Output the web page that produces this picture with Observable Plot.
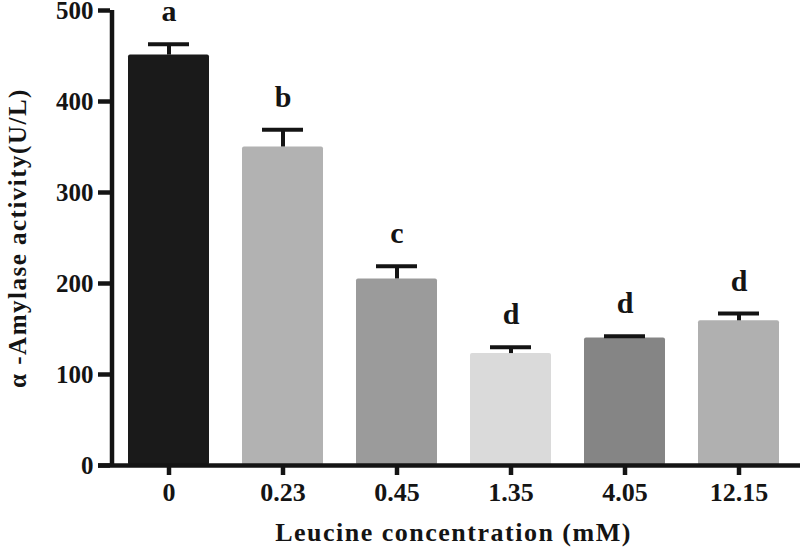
<!DOCTYPE html>
<html>
<head>
<meta charset="utf-8">
<script src="https://cdn.jsdelivr.net/npm/d3@7"></script>
<script src="https://cdn.jsdelivr.net/npm/@observablehq/plot@0.6"></script>
<style>
  html, body { margin: 0; padding: 0; background: #fff; }
</style>
</head>
<body>
<div id="chart"></div>
<script>
const concentrations = ["0", "0.23", "0.45", "1.35", "4.05", "12.15"];
const activity = [451, 350, 205, 123, 140, 159];
const sem = [12, 19, 14, 7, 2, 8];
const letters = ["a", "b", "c", "d", "d", "d"];
const yTicks = [0, 100, 200, 300, 400, 500];
const barFills = ["#1a1a1a", "#b2b2b2", "#9b9b9b", "#dadada", "#858585", "#b0b0b0"];
const xTitle = "Leucine concentration (mM)";
const yTitle = "α -Amylase activity(U/L)";

const data = concentrations.map((c, i) => ({
  conc: c,
  mean: activity[i],
  top: activity[i] + sem[i],
  letter: letters[i],
  fill: barFills[i]
}));

const ink = "#141414";
const chart = Plot.plot({
  width: 800,
  height: 548,
  marginTop: 10,
  marginBottom: 83,
  marginLeft: 110,
  marginRight: 4,
  style: {
    fontFamily: '"Liberation Serif", "Times New Roman", serif',
    fontWeight: "bold",
    color: ink,
    background: "white"
  },
  x: {domain: concentrations, paddingInner: 0.29, paddingOuter: 0.144, axis: null},
  y: {domain: [0, 500], axis: null},
  color: {type: "identity"},
  marks: [
    Plot.barY(data, {x: "conc", y: "mean", fill: "fill", rx: 2}),
    Plot.ruleX(data, {x: "conc", y1: "mean", y2: "top", stroke: ink, strokeWidth: 4}),
    Plot.tickY(data, {x: "conc", y: "top", stroke: ink, strokeWidth: 4, insetLeft: 20, insetRight: 20}),
    Plot.text(data, {x: "conc", y: "top", text: "letter", dy: -23, lineAnchor: "bottom", fontSize: 30, fill: ink}),
    Plot.ruleY([0], {stroke: ink, strokeWidth: 4.5, insetLeft: -12, insetRight: -4}),
    Plot.ruleX([concentrations[0]], {y1: 0, y2: 500, dx: -57, stroke: ink, strokeWidth: 4.5}),
    Plot.axisY({ticks: yTicks, tickSize: 12, tickPadding: 5, stroke: ink, strokeWidth: 4.5, fontSize: 25, tickFormat: d => String(d), label: null}),
    Plot.axisX({tickSize: 10, tickPadding: 7, stroke: ink, strokeWidth: 4.5, fontSize: 26, label: null}),
    Plot.text([yTitle], {frameAnchor: "left", dx: -93, rotate: -90, textAnchor: "middle", lineAnchor: "middle", fontSize: 25, fill: ink}),
    Plot.text([xTitle], {frameAnchor: "bottom", dy: 75, lineAnchor: "bottom", fontSize: 26, fill: ink})
  ]
});

d3.select(chart).selectAll("text")
  .filter(function () { return this.textContent === xTitle || this.textContent === yTitle; })
  .style("letter-spacing", "1.5px");

document.getElementById("chart").appendChild(chart);
</script>
</body>
</html>
